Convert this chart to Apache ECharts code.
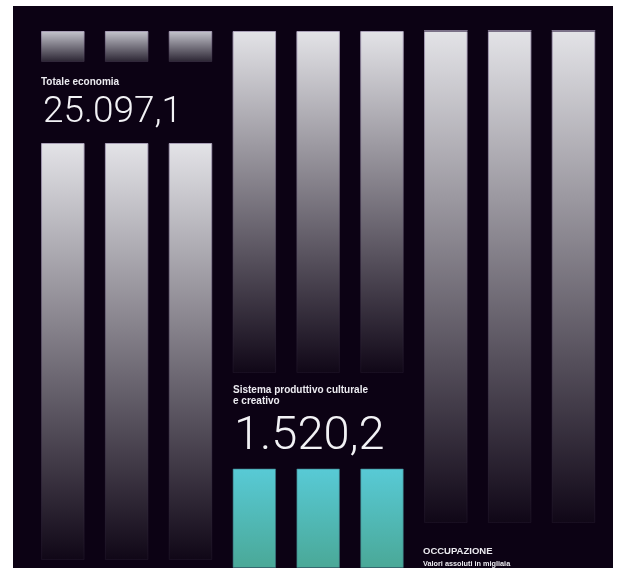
<!DOCTYPE html>
<html>
<head>
<meta charset="utf-8">
<script src="https://cdn.jsdelivr.net/npm/echarts@6/dist/echarts.min.js"></script>
<style>
  html, body { margin: 0; padding: 0; background: #ffffff; }
  #chart { position: absolute; left: 13px; top: 6px; width: 600px; height: 562px; }
</style>
</head>
<body>
<div id="chart"></div>
<script>
// Nine columns of the occupation infographic
const colonne = ['c1', 'c2', 'c3', 'c4', 'c5', 'c6', 'c7', 'c8', 'c9'];

// Stacked segment heights, from the bottom of each column upwards
const vuotoBase     = [8, 8, 8, 0, 0, 0, 45, 45, 45];
const barraBassa    = [417, 417, 417, 99.5, 99.5, 99.5, 492, 492, 492];
const vuotoCentrale = [81, 81, 81, 95.5, 95.5, 95.5, 0, 0, 0];
const barraAlta     = [31, 31, 31, 342, 342, 342, 0, 0, 0];

// Which palette each segment uses
const tipoBassa = ['grigio', 'grigio', 'grigio', 'cultura', 'cultura', 'cultura', 'grigio', 'grigio', 'grigio'];
const tipoAlta  = ['corto', 'corto', 'corto', 'grigio', 'grigio', 'grigio', 'grigio', 'grigio', 'grigio'];

// Headline texts and figures
const etichettaTotale = 'Totale economia';
const valoreTotale = '25.097,1';
const etichettaCultura = 'Sistema produttivo culturale\ne creativo';
const valoreCultura = '1.520,2';
const titolo = 'OCCUPAZIONE';
const sottotitolo = 'Valori assoluti in migliaia';

const SFONDO = '#0c0214';

function vert(top, bottom) {
  return { type: 'linear', x: 0, y: 0, x2: 0, y2: 1,
    colorStops: [{ offset: 0, color: top }, { offset: 1, color: bottom }] };
}

const palette = {
  grigio:  { color: vert('#e3e3e7', '#100717'), borderColor: vert('rgba(175,165,190,0.9)', 'rgba(40,30,50,0.4)'), borderWidth: 1 },
  corto:   { color: vert('#c6c6ce', '#2a2432'), borderColor: vert('rgba(175,165,190,0.9)', 'rgba(60,50,70,0.6)'), borderWidth: 1 },
  cultura: { color: vert('#58cad6', '#4aa897'), borderColor: 'rgba(60,120,130,0.6)', borderWidth: 1 }
};

function segmenti(valori, tipi) {
  return valori.map((v, i) => ({ value: v, itemStyle: palette[tipi[i]] }));
}

const trasparente = { color: 'rgba(0,0,0,0)' };
const ETICHETTA = '"Liberation Sans Narrow", "Liberation Sans", sans-serif';
const CIFRA = 'Roboto, "Liberation Sans", sans-serif';

const chart = echarts.init(document.getElementById('chart'));
chart.setOption({
  backgroundColor: SFONDO,
  animation: false,
  grid: { left: 17.9, right: 7.6, top: 0, bottom: 0 },
  xAxis: { type: 'category', data: colonne, show: false },
  yAxis: { type: 'value', min: 0, max: 562, show: false },
  series: [
    { type: 'bar', stack: 'col', barWidth: 43.5, data: vuotoBase, itemStyle: trasparente, silent: true },
    { type: 'bar', stack: 'col', barWidth: 43.5, data: segmenti(barraBassa, tipoBassa) },
    { type: 'bar', stack: 'col', barWidth: 43.5, data: vuotoCentrale, itemStyle: trasparente, silent: true },
    { type: 'bar', stack: 'col', barWidth: 43.5, data: segmenti(barraAlta, tipoAlta) }
  ],
  graphic: [
    { type: 'text', left: 28, top: 71,
      style: { text: etichettaTotale, fill: '#ecebf0', font: 'bold 10px ' + ETICHETTA } },
    { type: 'text', left: 30, top: 88,
      style: { text: valoreTotale, fill: '#f2f2f5', font: '300 37px ' + CIFRA } },
    { type: 'text', left: 220, top: 379,
      style: { text: etichettaCultura, fill: '#ecebf0', lineHeight: 11, font: 'bold 10px ' + ETICHETTA } },
    { type: 'text', left: 221, top: 408,
      style: { text: valoreCultura, fill: '#f2f2f5', font: '300 47px ' + CIFRA } },
    { type: 'text', left: 410, top: 540,
      style: { text: titolo, fill: '#ecebf0', font: 'bold 9.5px ' + ETICHETTA } },
    { type: 'text', left: 410, top: 554,
      style: { text: sottotitolo, fill: '#ecebf0', font: 'bold 7.3px ' + ETICHETTA } }
  ]
});
</script>
</body>
</html>
